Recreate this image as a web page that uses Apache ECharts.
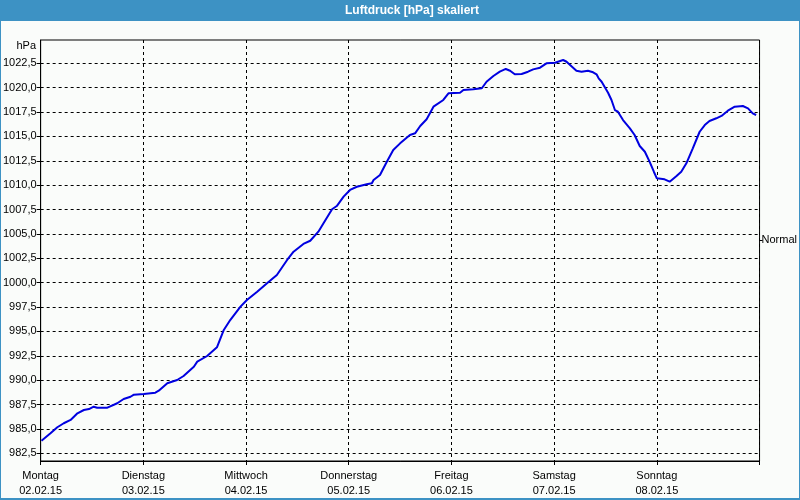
<!DOCTYPE html>
<html>
<head>
<meta charset="utf-8">
<script src="https://cdn.jsdelivr.net/npm/echarts@6/dist/echarts.min.js"></script>
<style>
html,body{margin:0;padding:0;background:#fafcfa;}
#c{width:800px;height:500px;}
</style>
</head>
<body>
<div id="c"></div>
<script>
// Data (hours since Monday 00:00, pressure in hPa)
var hours = [0.2, 2.3, 3.9, 5.4, 7.0, 8.6, 10.1, 11.3, 12.4, 13.2, 15.6, 17.9, 19.4, 21.0, 21.8, 24.1, 26.8, 27.6, 29.6, 31.9, 33.4, 35.8, 36.6, 38.9, 41.2, 42.8, 44.3, 46.7, 48.2, 50.6, 52.9, 55.2, 57.6, 59.1, 61.4, 63.0, 64.9, 66.1, 68.1, 69.2, 70.8, 72.3, 73.9, 76.2, 77.4, 77.8, 79.3, 80.9, 82.4, 84.0, 86.3, 87.5, 88.7, 90.2, 91.8, 94.1, 95.3, 98.0, 98.8, 101.1, 103.1, 104.2, 105.8, 107.3, 108.7, 109.7, 110.8, 112.4, 113.9, 115.1, 116.7, 118.2, 120.2, 122.1, 122.9, 125.2, 126.4, 127.9, 129.1, 129.9, 130.4, 131.1, 132.6, 133.4, 134.2, 134.9, 136.1, 137.7, 138.8, 140.0, 141.2, 142.3, 143.3, 144.0, 145.8, 147.0, 148.6, 149.7, 150.9, 152.4, 154.0, 155.2, 156.3, 157.9, 159.1, 160.6, 162.2, 164.1, 165.3, 166.4, 167.2];
var pressure = [983.79, 984.55, 985.17, 985.58, 985.92, 986.60, 986.94, 987.04, 987.28, 987.18, 987.18, 987.63, 988.07, 988.30, 988.51, 988.58, 988.72, 988.92, 989.68, 990.02, 990.43, 991.38, 991.90, 992.48, 993.37, 995.15, 996.17, 997.54, 998.22, 999.07, 999.94, 1000.79, 1002.33, 1003.18, 1003.97, 1004.30, 1005.23, 1006.09, 1007.53, 1007.86, 1008.82, 1009.51, 1009.84, 1010.09, 1010.19, 1010.53, 1011.04, 1012.41, 1013.61, 1014.29, 1015.15, 1015.32, 1016.07, 1016.76, 1018.05, 1018.74, 1019.42, 1019.48, 1019.76, 1019.83, 1019.94, 1020.61, 1021.20, 1021.64, 1021.92, 1021.74, 1021.37, 1021.40, 1021.64, 1021.88, 1022.05, 1022.50, 1022.56, 1022.84, 1022.66, 1021.74, 1021.64, 1021.74, 1021.58, 1021.37, 1020.96, 1020.61, 1019.48, 1018.74, 1017.71, 1017.54, 1016.68, 1015.83, 1015.15, 1014.02, 1013.43, 1012.41, 1011.38, 1010.70, 1010.60, 1010.36, 1010.94, 1011.38, 1012.24, 1013.78, 1015.48, 1016.17, 1016.58, 1016.86, 1017.10, 1017.64, 1018.05, 1018.12, 1017.88, 1017.37, 1017.20];
var dayNames = ['Montag', 'Dienstag', 'Mittwoch', 'Donnerstag', 'Freitag', 'Samstag', 'Sonntag'];
var dayDates = ['02.02.15', '03.02.15', '04.02.15', '05.02.15', '06.02.15', '07.02.15', '08.02.15'];
var yTicks = [982.5, 985, 987.5, 990, 992.5, 995, 997.5, 1000, 1002.5, 1005, 1007.5, 1010, 1012.5, 1015, 1017.5, 1020, 1022.5];
var normalValue = [1004.4];
var normalLabel = 'Normal';
var titleText = 'Luftdruck [hPa] skaliert';
var unitText = 'hPa';

var FONT = 'Liberation Sans, Arial, sans-serif';
var chart = echarts.init(document.getElementById('c'));
var seriesData = hours.map(function (h, i) { return [h, pressure[i]]; });

chart.setOption({
  animation: false,
  backgroundColor: '#fafcfa',
  textStyle: { fontFamily: FONT },
  grid: { left: 40, top: 40, width: 720, height: 421, show: true, borderColor: '#000', borderWidth: 1, backgroundColor: 'transparent' },
  xAxis: {
    type: 'value', min: 0, max: 168, interval: 24,
    axisLine: { lineStyle: { color: '#000', width: 1 } },
    axisTick: { show: true, length: 4, lineStyle: { color: '#000' } },
    splitLine: { show: true, lineStyle: { color: '#000', type: [3, 3], width: 1 } },
    axisLabel: {
      color: '#000', fontSize: 11, fontFamily: FONT, margin: 7, lineHeight: 15, align: 'center',
      formatter: function (v) { var i = Math.round(v / 24); return i < dayNames.length ? dayNames[i] + '\n' + dayDates[i] : ''; }
    }
  },
  yAxis: [{
    type: 'value', min: 981.71, max: 1024.89,
    axisLine: { show: true, lineStyle: { color: '#000', width: 1 } },
    axisTick: { show: true, length: 4, customValues: yTicks, lineStyle: { color: '#000' } },
    splitLine: { show: true, lineStyle: { color: '#000', type: [3, 3], width: 1 } },
    axisLabel: {
      customValues: yTicks, color: '#000', fontSize: 11, fontFamily: FONT, margin: 4,
      formatter: function (v) { return v.toFixed(1).replace('.', ','); }
    }
  }, {
    type: 'value', min: 981.71, max: 1024.89, position: 'right',
    axisLine: { show: false },
    axisTick: { show: true, length: 3, customValues: normalValue, lineStyle: { color: '#000' } },
    splitLine: { show: false },
    axisLabel: { customValues: normalValue, color: '#000', fontSize: 11, fontFamily: FONT, margin: 2, formatter: function () { return normalLabel; } }
  }],
  graphic: [
    { type: 'rect', left: 0, top: 0, shape: { width: 800, height: 21 }, style: { fill: '#3d92c4' }, silent: true },
    { type: 'rect', left: 0, top: 21, shape: { width: 1, height: 479 }, style: { fill: '#3d92c4' }, silent: true },
    { type: 'rect', left: 799, top: 21, shape: { width: 1, height: 479 }, style: { fill: '#3d92c4' }, silent: true },
    { type: 'rect', left: 0, top: 498, shape: { width: 800, height: 2 }, style: { fill: '#3d92c4' }, silent: true },
    { type: 'text', x: 412, y: 11, style: { text: titleText, fill: '#fff', font: 'bold 12px ' + FONT, align: 'center', verticalAlign: 'middle' } },
    { type: 'text', x: 36, y: 46, style: { text: unitText, fill: '#000', font: '11px ' + FONT, align: 'right', verticalAlign: 'middle' } }
  ],
  series: [{
    type: 'line', data: seriesData, showSymbol: false, symbol: 'none', smooth: false,
    lineStyle: { color: '#0000e0', width: 2 }, clip: true
  }]
});
</script>
</body>
</html>
